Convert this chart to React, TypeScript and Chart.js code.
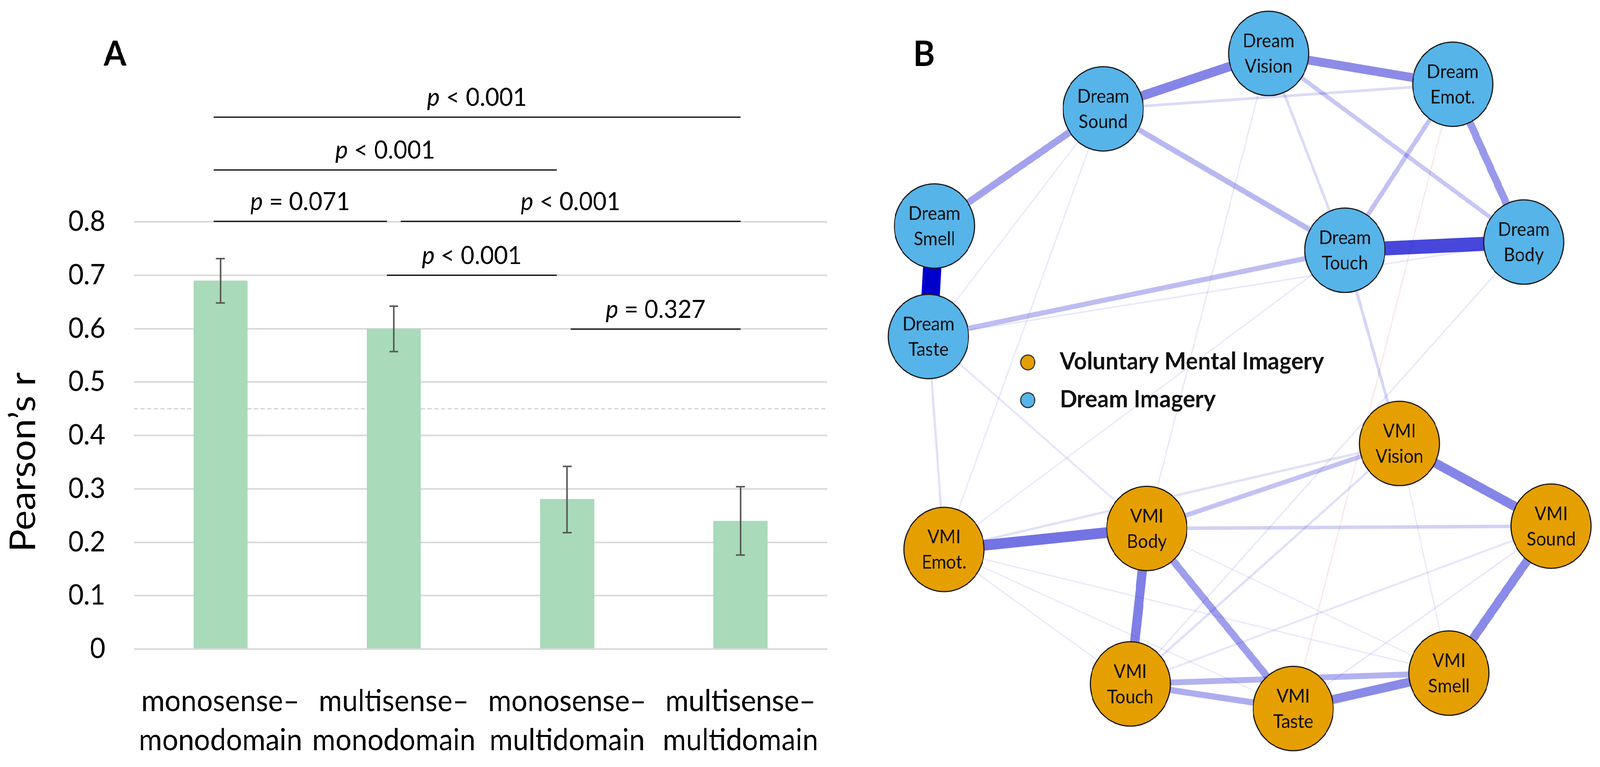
import React, { useEffect, useRef } from "react";
import { Chart, registerables } from "chart.js";

Chart.register(...registerables);

const FONT = "Lato, 'Open Sans', 'DejaVu Sans', sans-serif";

// ---------------- Panel A data ----------------
const categoryLabels = [
  ["monosense–", "monodomain"],
  ["multisense–", "monodomain"],
  ["monosense–", "multidomain"],
  ["multisense–", "multidomain"],
];
const meanR = [0.69, 0.6, 0.281, 0.24];
const errLow = [0.648, 0.557, 0.218, 0.176];
const errHigh = [0.731, 0.642, 0.342, 0.304];
const yTickMax = 0.8;
const yAxisMax = 1.0;
const referenceR = 0.45;
const yTitle = "Pearson’s r";

// significance brackets (x in category units, y in r units)
const bracketStart = [-0.04, -0.04, -0.04, 1.04, 0.96, 2.02];
const bracketEnd = [3.0, 1.94, 0.96, 3.0, 1.94, 3.0];
const bracketLevel = [0.996, 0.897, 0.801, 0.801, 0.7, 0.599];
const bracketText = ["< 0.001", "< 0.001", "= 0.071", "< 0.001", "< 0.001", "= 0.327"];

// ---------------- Panel B data ----------------
const nodeNames = [
  ["Dream", "Vision"],
  ["Dream", "Emot."],
  ["Dream", "Sound"],
  ["Dream", "Smell"],
  ["Dream", "Taste"],
  ["Dream", "Touch"],
  ["Dream", "Body"],
  ["VMI", "Vision"],
  ["VMI", "Sound"],
  ["VMI", "Emot."],
  ["VMI", "Body"],
  ["VMI", "Touch"],
  ["VMI", "Taste"],
  ["VMI", "Smell"],
];
const nodeX = [0.092, 0.683, -0.439, -0.981, -1.0, 0.337, 0.911, 0.512, 0.999, -0.95, -0.299, -0.352, 0.171, 0.671];
const nodeY = [0.999, 0.905, 0.83, 0.473, 0.136, 0.399, 0.424, -0.19, -0.442, -0.513, -0.449, -0.923, -0.998, -0.89];
const nodeGroup = [1, 1, 1, 1, 1, 1, 1, 0, 0, 0, 0, 0, 0, 0];
const groupNames = ["Voluntary Mental Imagery", "Dream Imagery"];
const groupColors = ["#E69F00", "#56B4E9"];
const legendX = -0.681;
const legendY = [0.057, -0.058];

// [from, to, partial correlation weight]
const edges: [number, number, number][] = [
  [3, 4, 1.0],
  [5, 6, 0.72],
  [2, 0, 0.48],
  [0, 1, 0.45],
  [1, 6, 0.4],
  [3, 2, 0.36],
  [2, 5, 0.28],
  [4, 5, 0.26],
  [1, 5, 0.24],
  [0, 6, 0.22],
  [0, 5, 0.14],
  [2, 1, 0.14],
  [4, 6, 0.08],
  [2, 4, 0.07],
  [9, 10, 0.55],
  [10, 11, 0.5],
  [7, 8, 0.48],
  [8, 13, 0.46],
  [12, 13, 0.46],
  [10, 12, 0.38],
  [11, 12, 0.32],
  [11, 13, 0.3],
  [10, 7, 0.24],
  [10, 8, 0.18],
  [9, 7, 0.12],
  [11, 7, 0.12],
  [11, 8, 0.1],
  [12, 8, 0.08],
  [9, 13, 0.07],
  [9, 11, 0.07],
  [9, 12, 0.06],
  [7, 13, 0.06],
  [10, 13, 0.06],
  [4, 9, 0.12],
  [4, 10, 0.1],
  [2, 9, 0.07],
  [0, 10, 0.07],
  [5, 7, 0.16],
  [5, 9, 0.07],
  [6, 11, 0.08],
  [1, 12, -0.07],
];

const W_A = 2300;
const W_B = 2015;
const W = W_A + W_B;
const H = 1964;

function fitSize(text: string, style: string, base: number, target: number) {
  const c = document.createElement("canvas").getContext("2d")!;
  c.font = `${style} ${base}px ${FONT}`.trim();
  const w = c.measureText(text).width;
  return w > 0 ? (base * target) / w : base;
}

function edgeColor(w: number) {
  const a = Math.min(1, Math.max(0.09, Math.abs(w)));
  return w >= 0 ? `rgba(0,0,205,${a})` : `rgba(205,0,0,${a})`;
}

export default function App() {
  const refA = useRef<HTMLCanvasElement>(null);
  const refB = useRef<HTMLCanvasElement>(null);

  const sx = typeof window !== "undefined" ? window.innerWidth / W : 1;
  const sy = typeof window !== "undefined" ? window.innerHeight / H : 1;

  useEffect(() => {
    const xLabelSize =
      (fitSize("monodomain", "", 80, 446) + fitSize("monosense–", "", 80, 422)) / 2;
    const tickSize = fitSize("0.7", "", 70, 100);
    const pSize = fitSize("p < 0.001", "", 60, 271);
    const titleSize = 97;
    const legendSize = fitSize(groupNames[0], "bold", 50, 713);
    const nodeSize = fitSize("Dream", "", 46, 140);
    const lineH = 100;
    const xPad = 1832 - 1662 - (lineH - xLabelSize) / 2 - 0.96 * xLabelSize;

    const panelAPlugin = {
      id: "panelA",
      afterDatasetsDraw(chart: any) {
        const { ctx, scales } = chart;
        const x = scales.x;
        const xl = scales.xl;
        const y = scales.y;
        ctx.save();
        // error bars
        ctx.strokeStyle = "#595959";
        ctx.lineWidth = 4;
        meanR.forEach((_, i) => {
          const px = x.getPixelForValue(i);
          const top = y.getPixelForValue(errHigh[i]);
          const bot = y.getPixelForValue(errLow[i]);
          ctx.beginPath();
          ctx.moveTo(px, top);
          ctx.lineTo(px, bot);
          ctx.moveTo(px - 12, top);
          ctx.lineTo(px + 12, top);
          ctx.moveTo(px - 12, bot);
          ctx.lineTo(px + 12, bot);
          ctx.stroke();
        });
        // p labels
        ctx.fillStyle = "#000";
        ctx.textBaseline = "alphabetic";
        ctx.textAlign = "left";
        bracketText.forEach((t, i) => {
          const cx = xl.getPixelForValue((bracketStart[i] + bracketEnd[i]) / 2);
          const by = y.getPixelForValue(bracketLevel[i]) - 29;
          ctx.font = `italic ${pSize}px ${FONT}`;
          const wp = ctx.measureText("p").width;
          ctx.font = `${pSize}px ${FONT}`;
          const rest = " " + t;
          const wr = ctx.measureText(rest).width;
          const startX = cx - (wp + wr) / 2;
          ctx.font = `italic ${pSize}px ${FONT}`;
          ctx.fillText("p", startX, by);
          ctx.font = `${pSize}px ${FONT}`;
          ctx.fillText(rest, startX + wp, by);
        });
        // y title
        ctx.save();
        ctx.translate(64, y.getPixelForValue(0.35));
        ctx.rotate(-Math.PI / 2);
        ctx.font = `${titleSize}px ${FONT}`;
        ctx.textAlign = "center";
        ctx.textBaseline = "middle";
        ctx.fillText(yTitle, 0, 0);
        ctx.restore();
        // panel letter
        ctx.font = `bold 88px ${FONT}`;
        ctx.textAlign = "center";
        ctx.textBaseline = "alphabetic";
        ctx.fillText("A", 310, 168);
        ctx.restore();
      },
    };

    const panelBPlugin = {
      id: "panelB",
      afterDatasetsDraw(chart: any) {
        const { ctx, scales } = chart;
        const x = scales.x;
        const y = scales.y;
        ctx.save();
        ctx.fillStyle = "#111";
        ctx.textAlign = "center";
        ctx.textBaseline = "middle";
        ctx.font = `${nodeSize}px ${FONT}`;
        nodeNames.forEach((lines, i) => {
          const px = x.getPixelForValue(nodeX[i]);
          const py = y.getPixelForValue(nodeY[i]);
          ctx.fillText(lines[0], px, py - 31);
          ctx.fillText(lines[1], px, py + 34);
        });
        groupNames.forEach((name, g) => {
          const px = x.getPixelForValue(legendX);
          const py = y.getPixelForValue(legendY[g]);
          ctx.beginPath();
          ctx.arc(px, py, 19, 0, Math.PI * 2);
          ctx.fillStyle = groupColors[g];
          ctx.fill();
          ctx.lineWidth = 3;
          ctx.strokeStyle = "#333";
          ctx.stroke();
          ctx.fillStyle = "#111";
          ctx.font = `bold ${legendSize}px ${FONT}`;
          ctx.textAlign = "left";
          ctx.textBaseline = "alphabetic";
          ctx.fillText(name, px + 86, py + 18);
        });
        ctx.fillStyle = "#000";
        ctx.font = `bold 90px ${FONT}`;
        ctx.textAlign = "center";
        ctx.fillText("B", 192, 169);
        ctx.restore();
      },
    };

    const bracketSets = bracketStart.map((s, i) => ({
      type: "line" as const,
      data: [
        { x: s, y: bracketLevel[i] },
        { x: bracketEnd[i], y: bracketLevel[i] },
      ],
      xAxisID: "xl",
      yAxisID: "y",
      borderColor: "#000",
      borderWidth: 3,
      pointRadius: 0,
      fill: false,
      order: 1,
      clip: false as any,
    }));

    const chartA = new Chart(refA.current!, {
      type: "bar",
      data: {
        labels: categoryLabels as any,
        datasets: [
          {
            type: "bar",
            data: meanR,
            backgroundColor: "#A9DAB9",
            grouped: false,
            barPercentage: 0.3125,
            categoryPercentage: 1,
            xAxisID: "x",
            yAxisID: "y",
            order: 0,
          } as any,
          {
            type: "line",
            data: [
              { x: -0.5, y: referenceR },
              { x: 3.5, y: referenceR },
            ],
            xAxisID: "xl",
            yAxisID: "y",
            borderColor: "#BFBFBF",
            borderWidth: 2,
            borderDash: [11, 7],
            pointRadius: 0,
            fill: false,
            order: 3,
          } as any,
          ...(bracketSets as any[]),
        ],
      },
      options: {
        animation: false,
        responsive: false,
        events: [],
        layout: { autoPadding: false, padding: { top: 294.5, left: 0, right: W_A - 2231, bottom: 0 } },
        plugins: { legend: { display: false }, tooltip: { enabled: false } },
        scales: {
          x: {
            type: "category",
            offset: true,
            grid: { display: false, drawTicks: false },
            border: { display: false },
            ticks: {
              color: "#000",
              font: { family: FONT, size: xLabelSize, lineHeight: lineH / xLabelSize },
              padding: xPad,
              maxRotation: 0,
              minRotation: 0,
              autoSkip: false,
            },
            afterFit: (s: any) => {
              s.height = 302;
            },
          },
          xl: {
            type: "linear",
            display: false,
            offset: false,
            grid: { offset: false },
            min: -0.5,
            max: 3.5,
          },
          y: {
            type: "linear",
            min: 0,
            max: yAxisMax,
            grid: { color: "#D9D9D9", lineWidth: 4, drawTicks: false },
            border: { display: false },
            ticks: {
              stepSize: 0.1,
              color: "#000",
              font: { family: FONT, size: tickSize },
              padding: 77,
              callback: (v: any) => {
                const n = Number(v);
                if (n > yTickMax + 0.05) return null;
                return n === 0 ? "0" : n.toFixed(1);
              },
            },
            afterFit: (s: any) => {
              s.width = 361;
            },
          },
        },
      } as any,
      plugins: [panelAPlugin],
    });

    const order = edges
      .map((_, i) => i)
      .sort((a, b) => Math.abs(edges[b][2]) - Math.abs(edges[a][2]));
    const edgeSets = order.map((k) => {
      const [f, t, w] = edges[k];
      return {
        type: "scatter" as const,
        showLine: true,
        data: [
          { x: nodeX[f], y: nodeY[f] },
          { x: nodeX[t], y: nodeY[t] },
        ],
        borderColor: edgeColor(w),
        borderWidth: Math.max(3, 50 * Math.abs(w)),
        borderCapStyle: "butt",
        pointRadius: 0,
        order: 1,
      };
    });

    const chartB = new Chart(refB.current!, {
      type: "scatter",
      data: {
        datasets: [
          {
            data: nodeX.map((v, i) => ({ x: v, y: nodeY[i] })),
            pointRadius: 108,
            pointBackgroundColor: nodeGroup.map((g) => groupColors[g]),
            pointBorderColor: "#1a1a1a",
            pointBorderWidth: 3,
            order: 0,
          } as any,
          ...(edgeSets as any[]),
        ],
      },
      options: {
        animation: false,
        responsive: false,
        events: [],
        layout: { autoPadding: false, padding: 0 },
        plugins: { legend: { display: false }, tooltip: { enabled: false } },
        scales: {
          x: { type: "linear", display: false, offset: false, min: (2300 - 3344) / 840, max: (4315 - 3344) / 840 },
          y: { type: "linear", display: false, offset: false, min: (976 - 1964) / 840, max: 976 / 840 },
        },
      } as any,
      plugins: [panelBPlugin],
    });

    return () => {
      chartA.destroy();
      chartB.destroy();
    };
  }, []);

  return (
    <div
      style={{
        position: "fixed",
        left: 0,
        top: 0,
        width: W,
        height: H,
        background: "#fff",
        overflow: "hidden",
        transformOrigin: "0 0",
        transform: `scale(${sx}, ${sy})`,
      }}
    >
      <canvas ref={refA} width={W_A} height={H} style={{ position: "absolute", left: 0, top: 0 }} />
      <canvas ref={refB} width={W_B} height={H} style={{ position: "absolute", left: W_A, top: 0 }} />
    </div>
  );
}
